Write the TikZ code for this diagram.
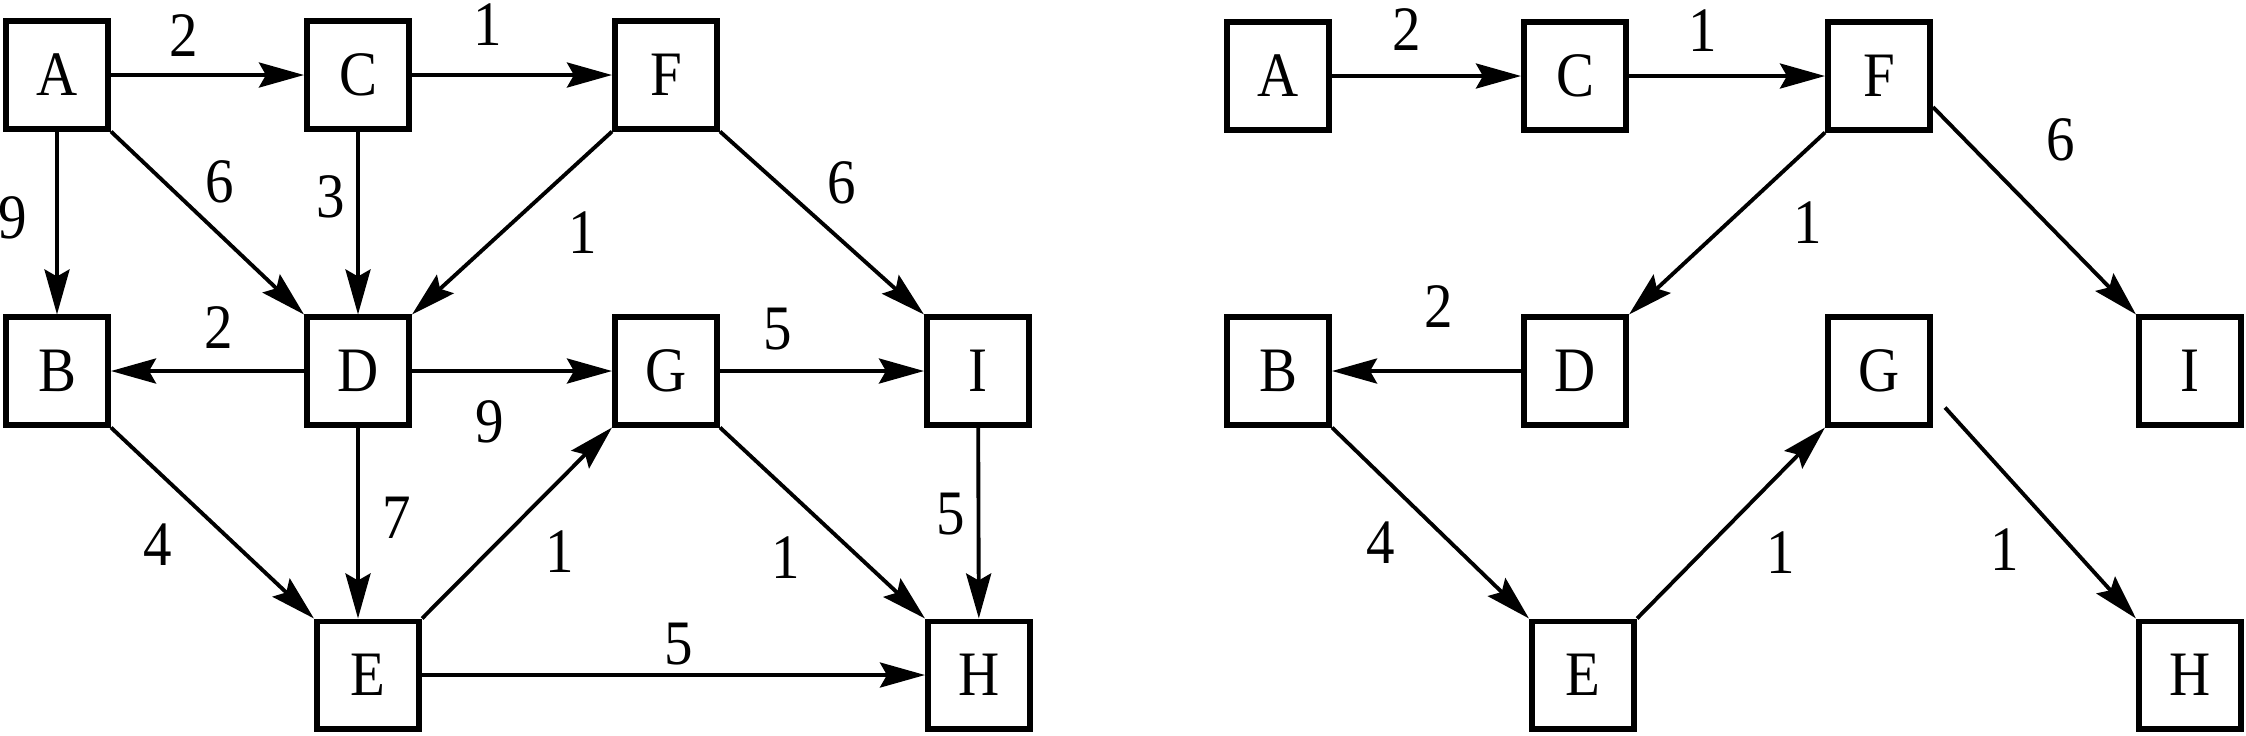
\documentclass[tikz,border=0pt]{standalone}
\usepackage{fontspec}
\setmainfont{Liberation Serif}[FakeStretch=0.9]
\usetikzlibrary{arrows.meta, calc}

\begin{document}
\begin{tikzpicture}[x=0.01cm, y=-0.01cm, font=\fontsize{18}{20}\selectfont,
    vertex/.style={draw, line width=1.7pt, minimum width=1.02cm, minimum height=1.07cm, inner sep=0pt},
    edge/.style={line width=1.1pt, -{Stealth[length=4.5mm, width=2.5mm, inset=0.7mm]}},
    wt/.style={inner sep=0pt}]
    \useasboundingbox (0,0) rectangle (2246,735);
    \foreach\n/\x/\y in {A/57/75, C/358/75, F/666/75, B/57/371, D/358/371, G/666/371, I/978/371, E/368/675, H/979/675}{
      \node[vertex] (\n) at (\x,\y) {\n};
    }
    \foreach\a/\b in {A/C, C/F, A/B, C/D, D/B, D/G, G/I, I/H, E/H}{
      \draw[edge] (\a) -- (\b);
    }
    \draw[edge] (D.south) -- (D.south |- E.north);
    \draw[edge] (A.south east) -- (D.north west);
    \draw[edge] (F.south west) -- (D.north east);
    \draw[edge] (F.south east) -- (I.north west);
    \draw[edge] (B.south east) -- (E.north west);
    \draw[edge] (E.north east) -- (G.south west);
    \draw[edge] (G.south east) -- (H.north west);
    \foreach\n/\x/\y/\w in {AC/184/36/2, CF/488/25/1, AB/13/218/9, AD/220/182/6, CD/331/197/3, FD/583/233/1, FI/842/183/6, DB/219/328/2, GI/778/329/5, DG/490/422/9, DE/397/518/7, BE/158/545/4, EG/560/552/1, GH/786/558/1, IH/951/514/5, EH/679/644/5}{
      \node[wt] (w\n) at (\x,\y) {\w};
    }

    \foreach\n/\x/\y in {A/1278/76, C/1575/76, F/1879/76, B/1278/371, D/1575/371, G/1879/371, I/2190/371, E/1583/675, H/2190/675}{
      \node[vertex] (r\n) at (\x,\y) {\n};
    }
    \foreach\a/\b in {A/C, C/F, D/B}{
      \draw[edge] (r\a) -- (r\b);
    }
    \draw[edge] (rF.south west) -- (rD.north east);
    \draw[edge] ($(rF.east)!.55!(rF.south east)$) -- (rI.north west);
    \draw[edge] (rB.south east) -- (rE.north west);
    \draw[edge] (rE.north east) -- (rG.south west);
    \draw[edge] ($(rG.south east)+(12,-20)$) -- (rH.north west);
    \foreach\n/\x/\y/\w in {AC/1407/30/2, CF/1703/31/1, FI/2061/140/6, FD/1808/223/1, DB/1439/307/2, BE/1381/543/4, EG/1781/553/1, GH/2005/550/1}{
      \node[wt] (rw\n) at (\x,\y) {\w};
    }
\end{tikzpicture}
\end{document}
